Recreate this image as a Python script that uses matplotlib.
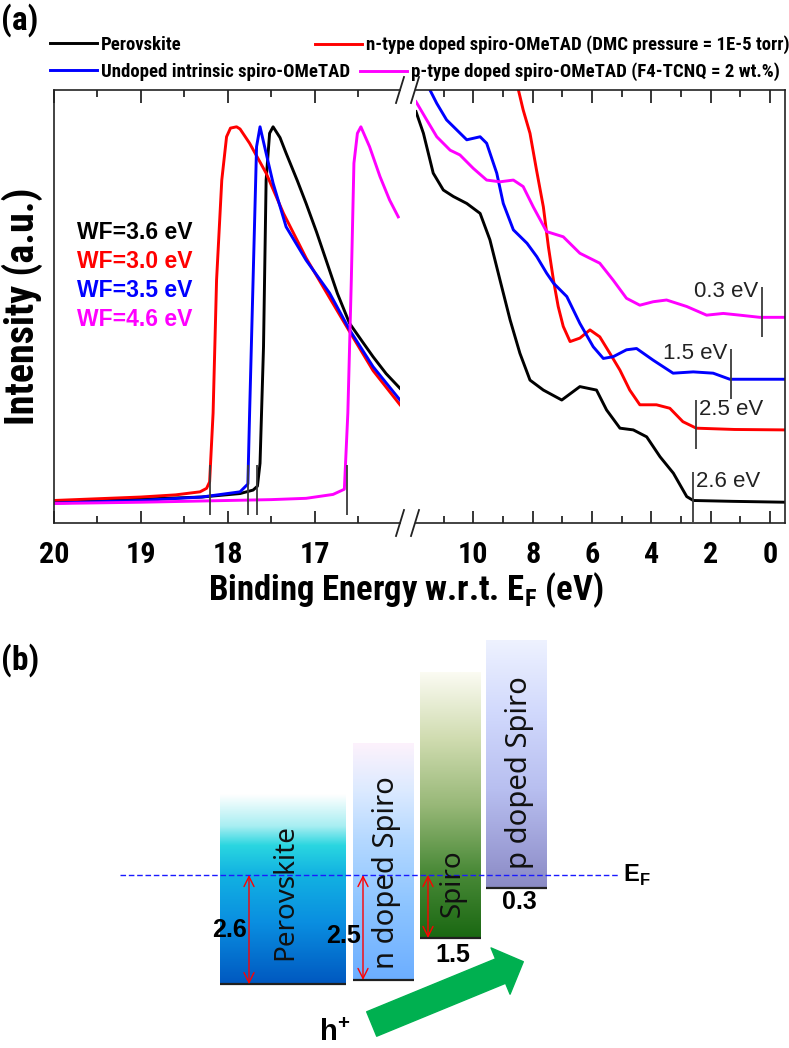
import numpy as np
import matplotlib
matplotlib.use('Agg')
from matplotlib import pyplot as plt
from matplotlib import font_manager
from matplotlib.font_manager import FontProperties
from matplotlib.textpath import TextPath
from matplotlib.colors import to_rgb
from matplotlib.lines import Line2D
from matplotlib.patches import FancyArrowPatch

# ---------------- data (a): UPS spectra ----------------
labels = ['Perovskite', 'n-type doped spiro-OMeTAD (DMC pressure = 1E-5 torr)',
          'Undoped intrinsic spiro-OMeTAD', 'p-type doped spiro-OMeTAD (F4-TCNQ = 2 wt.%)']
colors = ['#000000', '#ff0000', '#0000ff', '#ff00ff']
wf_values = [3.6, 3.0, 3.5, 4.6]
cutoff_marks = [17.66, 18.21, 17.77, 16.63]
vbm_values = [2.6, 2.5, 1.5, 0.3]
vbm_marks = [2.59, 2.51, 1.33, 0.28]

# secondary electron cutoff region
sec_be_black = [20.0, 19.0, 18.3, 17.86, 17.71, 17.66, 17.63, 17.59, 17.56, 17.52, 17.48, 17.40,
                17.33, 17.20, 17.10, 16.98, 16.87, 16.74, 16.60, 16.45, 16.33, 16.18, 16.02]
sec_int_black = [0.049, 0.055, 0.060, 0.068, 0.076, 0.085, 0.138, 0.407, 0.792, 0.900, 0.915, 0.890,
                 0.854, 0.790, 0.738, 0.672, 0.607, 0.530, 0.461, 0.418, 0.384, 0.345, 0.311]
sec_be_red = [20.0, 19.0, 18.6, 18.32, 18.245, 18.21, 18.17, 18.13, 18.07, 18.015, 17.97, 17.90,
              17.86, 17.75, 17.56, 17.36, 17.10, 16.83, 16.60, 16.33, 16.02]
sec_int_red = [0.052, 0.060, 0.065, 0.072, 0.080, 0.095, 0.254, 0.561, 0.792, 0.892, 0.912, 0.915,
               0.910, 0.877, 0.808, 0.715, 0.612, 0.520, 0.442, 0.352, 0.273]
sec_be_blue = [20.0, 19.0, 18.3, 17.86, 17.77, 17.75, 17.70, 17.67, 17.63, 17.56, 17.48, 17.33,
               17.10, 16.83, 16.60, 16.33, 16.02]
sec_int_blue = [0.046, 0.052, 0.060, 0.072, 0.090, 0.254, 0.638, 0.869, 0.915, 0.854, 0.785, 0.684,
                0.607, 0.531, 0.446, 0.361, 0.284]
sec_be_mag = [20.0, 19.0, 18.0, 17.5, 17.10, 16.79, 16.66, 16.62, 16.58, 16.55, 16.51, 16.47,
              16.37, 16.25, 16.14, 16.04]
sec_int_mag = [0.045, 0.048, 0.052, 0.054, 0.057, 0.066, 0.078, 0.254, 0.561, 0.831, 0.900, 0.915,
               0.869, 0.800, 0.746, 0.707]

# valence band region
vb_be_black = [11.93, 11.68, 11.35, 11.01, 10.67, 10.22, 9.77, 9.44, 9.10, 8.76, 8.43, 8.09, 7.64,
               7.02, 6.41, 5.85, 5.51, 5.06, 4.61, 4.16, 3.71, 3.26, 2.81, 2.59, 1.25, -0.5]
vb_int_black = [0.950, 0.900, 0.808, 0.769, 0.754, 0.738, 0.715, 0.654, 0.561, 0.469, 0.392, 0.330,
                0.307, 0.284, 0.315, 0.307, 0.261, 0.219, 0.215, 0.199, 0.153, 0.115, 0.061, 0.052,
                0.050, 0.048]
vb_be_red = [8.60, 8.48, 8.32, 8.09, 7.87, 7.64, 7.47, 7.30, 7.14, 6.97, 6.74, 6.41, 6.07, 5.74,
             5.40, 5.06, 4.73, 4.39, 3.83, 3.38, 2.94, 2.49, 1.2, -0.5]
vb_int_red = [1.05, 1.0, 0.954, 0.900, 0.815, 0.730, 0.638, 0.561, 0.500, 0.454, 0.419, 0.427, 0.446,
              0.430, 0.392, 0.353, 0.307, 0.273, 0.273, 0.265, 0.234, 0.219, 0.216, 0.215]
vb_be_blue = [11.60, 11.46, 11.23, 10.90, 10.56, 10.22, 9.77, 9.55, 9.21, 8.99, 8.65, 8.19, 7.86,
              7.53, 7.30, 6.85, 6.41, 5.96, 5.62, 5.29, 4.84, 4.50, 3.94, 3.27, 2.59, 1.92, 1.36, -0.5]
vb_int_blue = [1.04, 1.0, 0.969, 0.931, 0.908, 0.885, 0.892, 0.877, 0.808, 0.738, 0.677, 0.646, 0.615,
               0.577, 0.554, 0.523, 0.461, 0.407, 0.380, 0.384, 0.400, 0.403, 0.376, 0.346, 0.349,
               0.346, 0.332, 0.332]
vb_be_mag = [11.93, 11.57, 11.23, 10.78, 10.45, 10.0, 9.55, 9.10, 8.65, 8.32, 7.98, 7.53, 6.97, 6.41,
             5.74, 5.29, 4.84, 4.39, 3.94, 3.49, 2.81, 2.14, 1.58, 1.02, 0.35, -0.5]
vb_int_mag = [0.973, 0.931, 0.892, 0.861, 0.850, 0.819, 0.792, 0.788, 0.792, 0.777, 0.730, 0.673, 0.661,
              0.623, 0.600, 0.561, 0.519, 0.503, 0.511, 0.515, 0.500, 0.480, 0.484, 0.480, 0.475, 0.475]

sec_be = [sec_be_black, sec_be_red, sec_be_blue, sec_be_mag]
sec_int = [sec_int_black, sec_int_red, sec_int_blue, sec_int_mag]
vb_be = [vb_be_black, vb_be_red, vb_be_blue, vb_be_mag]
vb_int = [vb_int_black, vb_int_red, vb_int_blue, vb_int_mag]

# ---------------- data (b): energy diagram ----------------
layers = ['Perovskite', 'n doped Spiro', 'Spiro', 'p doped Spiro']
layer_offsets = [2.6, 2.5, 1.5, 0.3]   # VBM below E_F (eV)

# ---------------- fonts ----------------
# the original uses an Arial-Narrow-like bold face; take the first narrow family around
names = {f.name for f in font_manager.fontManager.ttflist}
bold_names = {f.name for f in font_manager.fontManager.ttflist
              if str(f.weight) in ('bold', '700', '600') or f.weight in (600, 700)}
narrow_cands = ['Liberation Sans Narrow', 'Arial Narrow', 'Roboto Condensed', 'PT Sans Narrow',
                'Archivo Narrow', 'Asap Condensed', 'Barlow Semi Condensed']
narrow = next((c for c in narrow_cands if c in bold_names), None) or \
    next((c for c in narrow_cands if c in names), 'Liberation Sans')

plt.rcParams['font.family'] = [narrow, 'DejaVu Sans']
plt.rcParams['font.weight'] = 'bold'
plt.rcParams['mathtext.fontset'] = 'custom'
plt.rcParams['mathtext.rm'] = narrow + ':bold'
plt.rcParams['mathtext.bf'] = 'Liberation Sans:bold'


def text_px(s, size, family=narrow, weight='bold'):
    tp = TextPath((0, 0), s, size=size, prop=FontProperties(family=family, weight=weight))
    return tp.get_extents().width * 100 / 72


def fit_size(s, target_px, family=narrow, weight='bold'):
    return 20 * target_px / text_px(s, 20, family, weight)


W, H = 789, 1048
fig = plt.figure(figsize=(W / 100, H / 100), dpi=100)


def fx(px):
    return px / W


def fy(py):
    return 1 - py / H


ax_l = fig.add_axes([fx(54), fy(523), (400 - 54) / W, (523 - 90) / H])
ax_r = fig.add_axes([fx(416), fy(523), (785 - 416) / W, (523 - 90) / H])

lines = []
for i in range(4):
    ax_l.plot(sec_be[i], sec_int[i], color=colors[i], lw=2.1)
    ln, = ax_r.plot(vb_be[i], vb_int[i], color=colors[i], lw=2.1)
    lines.append(ln)

tick_size = fit_size('20', 28)
ax_l.set_xlim(20, 16.02)
ax_r.set_xlim(11.93, -0.5)
for ax in (ax_l, ax_r):
    ax.set_ylim(0, 1)
    ax.set_yticks([])
    ax.tick_params(axis='x', which='both', direction='in', top=True, labelsize=tick_size, pad=13)
    ax.tick_params(axis='x', which='major', length=9, width=1.1)
    ax.tick_params(axis='x', which='minor', length=5, width=1.1)
    for s in ax.spines.values():
        s.set_linewidth(1.2)
        s.set_color('#222222')
ax_l.spines['right'].set_visible(False)
ax_r.spines['left'].set_visible(False)

ax_l.set_xticks([20, 19, 18, 17], ['20', '19', '18', '17'])
ax_l.set_xticks([19.5, 18.5, 17.5, 16.5], minor=True)
ax_r.set_xticks([10, 8, 6, 4, 2, 0], ['10', '8', '6', '4', '2', '0'])
ax_r.set_xticks([11, 9, 7, 5, 3, 1], minor=True)

# cutoff markers and WF labels
ax_l.vlines(cutoff_marks, 0.018, 0.135, color='#3a3a3a', lw=1.3)
for i in range(4):
    ax_l.text(19.74, 0.670 - 0.0664 * i, f'WF={wf_values[i]:.1f} eV', color=colors[i],
              fontsize=16.5, family='Liberation Sans', fontweight='bold', va='center', ha='left')

# VBM markers
for i in range(4):
    base = vb_int[i][-1]
    ax_r.vlines(vbm_marks[i], base - 0.045, base + 0.07, color='#3a3a3a', lw=1.3)
    txt = f'{vbm_values[i]} eV'
    if i in (0, 1):
        ax_r.text(vbm_marks[i] - 0.1, base + 0.047, txt, ha='left', va='center', fontsize=16,
                  family='Liberation Sans', fontweight='normal', color='#222222')
    else:
        ax_r.text(vbm_marks[i] + 0.12, base + 0.06, txt, ha='right', va='center', fontsize=16,
                  family='Liberation Sans', fontweight='normal', color='#222222')

# axis break marks
for xb in (400, 415):
    for yb in (90, 523):
        fig.add_artist(Line2D([fx(xb - 4), fx(xb + 4)], [fy(yb + 13), fy(yb - 13)],
                              color='#222222', lw=1.3))

# legend (one small legend per entry, placed like the original)
leg_size = fit_size(labels[1], 785 - 366)
leg_pos = [(50, 45), (315, 45), (50, 72), (360, 72)]
for i in range(4):
    fig.legend(handles=[lines[i]], labels=[labels[i]], loc='center left',
               bbox_to_anchor=(fx(leg_pos[i][0]), fy(leg_pos[i][1])), frameon=False,
               fontsize=leg_size, handlelength=47 / (leg_size * 100 / 72), handletextpad=0.2,
               borderpad=0, borderaxespad=0)

fig.text(fx(1), fy(20), '(a)', fontsize=24, va='center', ha='left')
fig.text(fx(22), fy(306), 'Intensity (a.u.)', rotation=90,
         fontsize=fit_size('Intensity (a.u.)', 233), ha='center', va='center')
fig.text(fx(406), fy(590), r'Binding Energy w.r.t. E$_\mathrm{F}$ (eV)',
         fontsize=fit_size('Binding Energy w.r.t. EF (eV)', 395), ha='center', va='center')

# ---------------- panel (b) ----------------
fig.text(fx(1), fy(660), '(b)', fontsize=24, va='center', ha='left')

PX_PER_EV = 42.0
ax_b = fig.add_axes([0, 0, 1, (H - 620) / H])
ylo, yhi = -(H - 875) / PX_PER_EV, (875 - 620) / PX_PER_EV

bar_x = [(220, 346), (353, 414), (420, 481), (486, 547)]
bar_top = [1.9, 3.14, 4.83, 5.6]
bar_stops = [
    [(0.0, '#0058c0'), (0.32, '#0a8ee0'), (0.578, '#12b2e2'), (0.73, '#2ad6e0'),
     (0.833, '#a8eef2'), (1.0, '#ffffff')],
    [(0.0, '#6caeff'), (0.31, '#8cc4ff'), (0.59, '#b4d8ff'), (0.80, '#dceaff'), (1.0, '#fdf2fc')],
    [(0.0, '#1a6812'), (0.25, '#4a8a38'), (0.5, '#98b878'), (0.75, '#d0dcb0'), (1.0, '#fbfbf2')],
    [(0.0, '#8a8ac4'), (0.15, '#9c9ed6'), (0.4, '#b8bff0'), (0.7, '#d0d8fc'), (1.0, '#eef2ff')],
]


def gradient(stops):
    f = np.linspace(0, 1, 256)
    pos = [p for p, _ in stops]
    cols = np.array([to_rgb(c) for _, c in stops])
    rgb = np.stack([np.interp(f, pos, cols[:, k]) for k in range(3)], axis=-1)
    return rgb[:, None, :]


for i in range(4):
    x0, x1 = bar_x[i]
    off = layer_offsets[i]
    ax_b.imshow(gradient(bar_stops[i]), extent=[x0, x1, -off, bar_top[i]], origin='lower',
                aspect='auto', interpolation='bilinear', zorder=1)
    ax_b.hlines(-off, x0, x1, color='#202020', lw=1.6, zorder=3)

ax_b.plot([120, 620], [0, 0], color='#1a1aff', lw=1.0, ls=(0, (4, 2)), zorder=4)
ax_b.text(623, 0, r'E$_\mathbf{F}$', fontsize=17, family='Liberation Sans', fontweight='bold',
          ha='left', va='center')

# double arrows for VBM offsets
arrow_x = [249, 363, 428]
for i in range(3):
    ax_b.annotate('', xy=(arrow_x[i], 0), xytext=(arrow_x[i], -layer_offsets[i]),
                  arrowprops=dict(arrowstyle='<->,head_length=0.6,head_width=0.3', color='red',
                                  lw=1.0, shrinkA=0, shrinkB=0, mutation_scale=12), zorder=5)

# value labels
num_kw = dict(fontsize=18, family='Liberation Sans', fontweight='bold', ha='center', va='center',
              zorder=6)
ax_b.text(230, -layer_offsets[0] / 2, f'{layer_offsets[0]}', **num_kw)
ax_b.text(344, -layer_offsets[1] / 2 - 0.2, f'{layer_offsets[1]}', **num_kw)
ax_b.text(453, -layer_offsets[2] - 0.4, f'{layer_offsets[2]}', **num_kw)
ax_b.text(519, -layer_offsets[3] - 0.35, f'{layer_offsets[3]}', **num_kw)

# rotated layer names
name_pos = [(285, -0.4), (387, 0.05), (453, -0.19), (520, 2.45)]
name_size = [20, 21, 20, 21]
for i in range(4):
    ax_b.text(name_pos[i][0], name_pos[i][1], layers[i], rotation=90, fontsize=name_size[i],
              family='Noto Sans', fontweight='normal', ha='center', va='center', zorder=6,
              color='#111111')


# hole transport arrow
def ev(py):
    return (875 - py) / PX_PER_EV


ax_b.add_patch(FancyArrowPatch((371.7, ev(1024)), (523.3, ev(961.7)),
                               arrowstyle='simple,head_length=17.7,head_width=36,tail_width=19',
                               mutation_scale=1, color='#00b050', shrinkA=0, shrinkB=0, zorder=5))
ax_b.text(335, ev(1033), r'h$^\mathbf{+}$', fontsize=21, family='Liberation Sans',
          fontweight='bold', ha='center', va='center')

ax_b.set_xlim(0, W)
ax_b.set_ylim(ylo, yhi)
ax_b.axis('off')

fig.savefig('out.png', dpi=100)
